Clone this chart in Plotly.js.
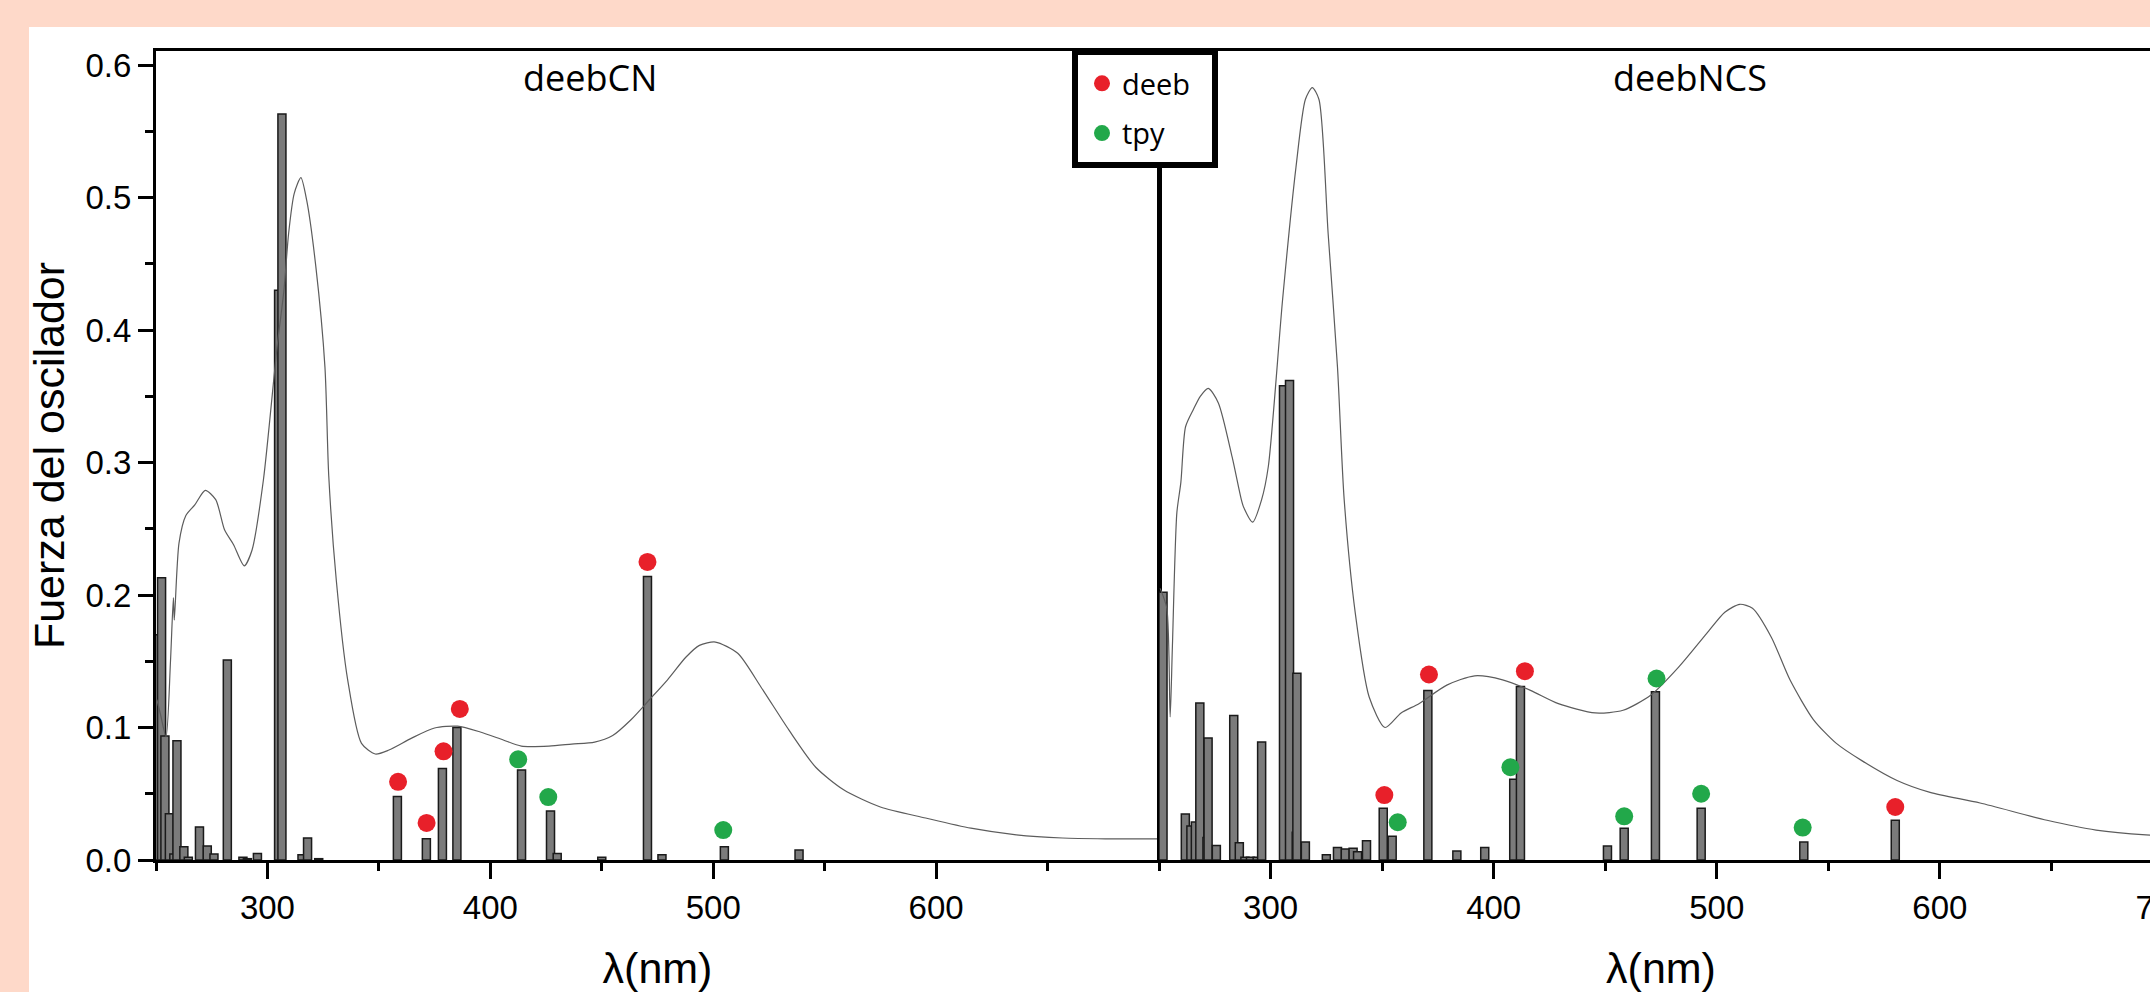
<!DOCTYPE html>
<html>
<head>
<meta charset="utf-8">
<script src="https://cdn.plot.ly/plotly-3.0.1.min.js"></script>
<style>
html,body{margin:0;padding:0;overflow:hidden;background:#FED9C9;}
#chart{width:2200px;height:992px;}
</style>
</head>
<body>
<div id="chart"></div>
<script>
// ---------------- DATA ----------------
// deebCN panel: absorption spectrum (scaled)
const cnCurveX = [250.4,252,254.5,256.5,257.8,258.2,260.3,263.4,267.4,272.1,276.8,280.8,284.8,289.6,293.1,298.2,304.3,307.4,309.5,312,315.0,317.6,321.7,325.8,327.5,330.9,336,342.2,348.4,354.5,364.7,375,385.3,395.5,405.8,413.9,426.3,436.5,446.8,454.9,463,471.4,479.5,487.7,493.8,501,511,521.4,534,546,558.5,575,595.3,615.6,636,656.7,676,700];
const cnCurveY = [0.121,0.110,0.093,0.150,0.198,0.181,0.239,0.260,0.268,0.279,0.272,0.249,0.238,0.222,0.234,0.287,0.387,0.430,0.473,0.503,0.515,0.498,0.448,0.372,0.290,0.211,0.136,0.088,0.080,0.083,0.092,0.0996,0.101,0.0966,0.0906,0.086,0.086,0.0875,0.089,0.094,0.1057,0.121,0.136,0.153,0.162,0.1645,0.156,0.1306,0.098,0.070,0.053,0.040,0.0317,0.024,0.019,0.0166,0.016,0.0159];
// deebCN panel: oscillator strengths
const cnBarX = [251,252.5,254,256,258,259.4,262.5,264.5,269.5,273,276,282,289,291,295.5,305,306.5,315.5,318,323,358.3,371.3,378.5,385,414,427,430,450,470.5,477,505,538.5];
const cnBarY = [0.170,0.213,0.0935,0.035,0.0045,0.090,0.010,0.002,0.025,0.0106,0.0045,0.151,0.002,0.001,0.005,0.430,0.563,0.004,0.0166,0.001,0.048,0.016,0.069,0.100,0.068,0.037,0.005,0.002,0.214,0.004,0.010,0.0075];
// deebCN panel: transition character markers
const cnDeebX = [358.6,371.4,379,386.3,470.5];
const cnDeebY = [0.059,0.028,0.082,0.114,0.225];
const cnTpyX = [412.5,426,504.5];
const cnTpyY = [0.076,0.0475,0.0226];

// deebNCS panel: absorption spectrum (scaled)
const ncsCurveX = [250.5,253.5,255,256,258,259.8,261.9,265.4,268.5,272.1,276.6,282.8,286.9,288,292,296,299,305.4,311.4,315.6,318.7,321.7,325.8,330,333,338,344.2,351.3,358.5,366.5,379,391.5,404,416.5,429,445.5,458,470.5,483,495.5,503.6,510.3,516,524.5,532.8,543.3,553.6,565,580.8,595.6,618,648,670,692.4,710];
const ncsCurveY = [0.205,0.190,0.108,0.161,0.262,0.285,0.327,0.340,0.350,0.356,0.345,0.304,0.272,0.266,0.255,0.272,0.297,0.423,0.523,0.574,0.583,0.574,0.473,0.372,0.272,0.186,0.123,0.100,0.111,0.118,0.132,0.139,0.136,0.128,0.118,0.111,0.113,0.1245,0.1457,0.171,0.187,0.193,0.190,0.168,0.136,0.106,0.088,0.075,0.060,0.051,0.043,0.030,0.0226,0.019,0.018];
// deebNCS panel: oscillator strengths
const ncsBarX = [251.8,261.8,264.3,266.3,268.3,271.5,272,275.7,283.5,286,288.5,291,294,296,305.8,308.5,311.5,311.8,315.6,325,330,333.5,337,339,343,350.5,354.5,370.5,383.5,396,409,412,451,458.5,472.5,493,539,580];
const ncsBarY = [0.202,0.0347,0.0257,0.0286,0.1185,0.017,0.092,0.011,0.109,0.013,0.002,0.002,0.002,0.089,0.358,0.362,0.021,0.141,0.0136,0.004,0.0095,0.0083,0.0088,0.0063,0.0145,0.039,0.018,0.128,0.0068,0.0095,0.061,0.131,0.0105,0.024,0.127,0.039,0.0135,0.030];
// deebNCS panel: transition character markers
const ncsDeebX = [351,371,414,580];
const ncsDeebY = [0.049,0.140,0.1425,0.040];
const ncsTpyX = [357,407.5,458.5,473,493,538.5];
const ncsTpyY = [0.0285,0.070,0.033,0.137,0.050,0.0245];

const panelTitles = ['deebCN','deebNCS'];
const seriesNames = ['deeb','tpy'];
const xTitle = 'λ(nm)';
const yTitle = 'Fuerza del oscilador';

// ---------------- STYLE ----------------
const RED = '#E8202A', GREEN = '#22A84A';
const BAR_FILL = '#7b7b7b', BAR_LINE = '#1a1a1a';
const CURVE = '#5c5c5c';
const NUMF = 'Liberation Sans, Arial, sans-serif';
const TXTF = 'Open Sans, sans-serif';

function bars(x, y, xa, ya){
  return {type:'bar', x:x, y:y, xaxis:xa, yaxis:ya, width:3.6,
    marker:{color:BAR_FILL, line:{color:BAR_LINE, width:1.5}},
    showlegend:false, hoverinfo:'skip'};
}
function curve(x, y, xa, ya){
  return {type:'scatter', mode:'lines', x:x, y:y, xaxis:xa, yaxis:ya,
    line:{color:CURVE, width:1.2, shape:'spline', smoothing:0.7}, showlegend:false, hoverinfo:'skip'};
}
function dots(x, y, xa, ya, name, color, show){
  return {type:'scatter', mode:'markers', x:x, y:y, xaxis:xa, yaxis:ya, name:name,
    legendgroup:name, showlegend:show,
    marker:{color:color, size:18, line:{width:0}}, hoverinfo:'skip'};
}

const data = [
  bars(cnBarX, cnBarY, 'x', 'y'),
  bars(ncsBarX, ncsBarY, 'x2', 'y2'),
  curve(cnCurveX, cnCurveY, 'x', 'y'),
  curve(ncsCurveX, ncsCurveY, 'x2', 'y2'),
  dots(cnDeebX, cnDeebY, 'x', 'y', seriesNames[0], RED, true),
  dots(cnTpyX, cnTpyY, 'x', 'y', seriesNames[1], GREEN, true),
  dots(ncsDeebX, ncsDeebY, 'x2', 'y2', seriesNames[0], RED, false),
  dots(ncsTpyX, ncsTpyY, 'x2', 'y2', seriesNames[1], GREEN, false)
];

// geometry (px): plot area x 156..2163, y 51..860
const L = 156, R = 2163, T = 51, B = 860, W = 2200, H = 992;
const PW = R - L, PH = B - T;
const split = (1159 - L) / PW;
const px = v => (v - L) / PW;
const py = v => (B - v) / PH;
const YMAX = 0.6106;

const tickFont = {family:NUMF, size:33, color:'black'};
const titleFont = {family:NUMF, size:43, color:'black'};

function xAxis(domain, anchor, vals){
  return {domain:domain, anchor:anchor, range:[250,700], autorange:false,
    showline:true, linecolor:'black', linewidth:3, mirror:true,
    ticks:'outside', ticklen:16, tickwidth:3, tickcolor:'black',
    tickmode:'array', tickvals:vals, tickfont:tickFont,
    minor:{tickmode:'array', tickvals:[250,350,450,550,650], ticks:'outside', ticklen:8, tickwidth:3, tickcolor:'black', showgrid:false},
    showgrid:false, zeroline:false,
    title:{text:xTitle, font:titleFont, standoff:30}};
}

const layout = {
  width:W, height:H,
  margin:{l:L, r:W-R, t:T, b:H-B, pad:0},
  paper_bgcolor:'#FED9C9', plot_bgcolor:'white',
  barmode:'overlay',
  xaxis: xAxis([0, split], 'y', [300,400,500,600]),
  xaxis2: xAxis([split, 1], 'y2', [300,400,500,600,700]),
  yaxis:{domain:[0,1], anchor:'x', range:[0,YMAX], autorange:false,
    showline:true, linecolor:'black', linewidth:3, mirror:true,
    ticks:'outside', ticklen:15, tickwidth:3, tickcolor:'black',
    tickmode:'linear', tick0:0, dtick:0.1, tickformat:'.1f', tickfont:tickFont,
    minor:{dtick:0.05, tick0:0, ticks:'outside', ticklen:8, tickwidth:3, tickcolor:'black', showgrid:false},
    showgrid:false, zeroline:false,
    title:{text:yTitle, font:titleFont, standoff:8}},
  yaxis2:{domain:[0,1], anchor:'x2', range:[0,YMAX], autorange:false,
    showline:true, linecolor:'black', linewidth:2.5, mirror:false,
    ticks:'', showticklabels:false, showgrid:false, zeroline:false},
  showlegend:true,
  legend:{x:px(1082), y:py(58), xanchor:'left', yanchor:'top',
    bgcolor:'rgba(0,0,0,0)', borderwidth:0, tracegroupgap:9,
    font:{family:TXTF, size:29, color:'black'}},
  annotations:[
    {xref:'paper', yref:'paper', x:px(590), y:py(77), xanchor:'center', yanchor:'middle',
     text:panelTitles[0], showarrow:false, font:{family:TXTF, size:36, color:'black'}},
    {xref:'paper', yref:'paper', x:px(1690), y:py(77), xanchor:'center', yanchor:'middle',
     text:panelTitles[1], showarrow:false, font:{family:TXTF, size:36, color:'black'}}
  ],
  shapes:[
    {type:'rect', xref:'paper', yref:'paper', layer:'below',
     x0:px(29), x1:1.2, y0:-0.5, y1:py(27), fillcolor:'white', line:{width:0}},
    {type:'rect', xref:'paper', yref:'paper', layer:'above',
     x0:px(1075), x1:px(1215), y0:py(165), y1:py(52), fillcolor:'white',
     line:{color:'black', width:6}}
  ]
};

Plotly.newPlot('chart', data, layout, {displayModeBar:false, staticPlot:true});
</script>
</body>
</html>
